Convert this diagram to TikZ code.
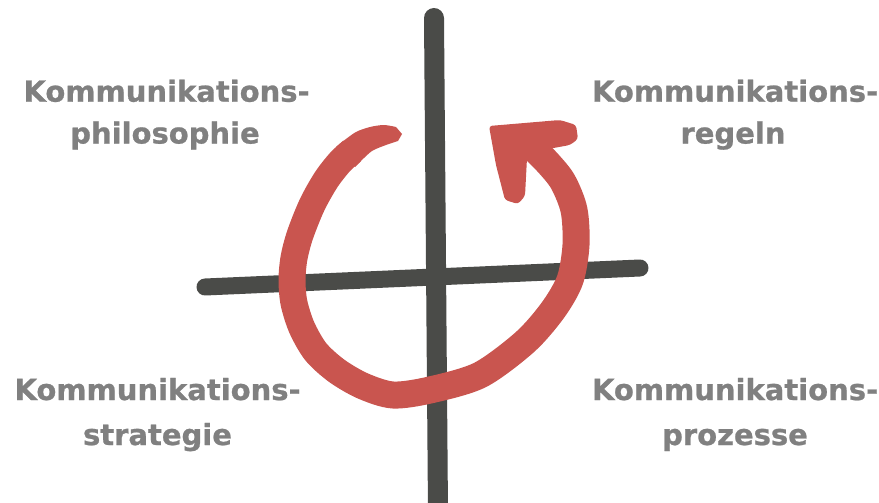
\documentclass[tikz,border=0pt]{standalone}
\usepackage{fontspec}
\setmainfont{DejaVu Sans}
\newfontfamily\lblfont{DejaVu Sans Bold}[FakeBold=0.8]
\definecolor{barcol}{HTML}{4A4B48}
\definecolor{arrowred}{HTML}{C9554F}
\definecolor{labelgray}{HTML}{808080}
\tikzset{
  bar/.style={draw=barcol, line width=#1, line cap=round},
  lbl/.style={text=labelgray, font=\lblfont\fontsize{29}{42}\selectfont, anchor=base, inner sep=0pt},
}
\begin{document}
\begin{tikzpicture}[x=1pt,y=-1pt]
\useasboundingbox (0,0) rectangle (879,503);
% axes
\coordinate (hl) at (205,287);
\coordinate (hr) at (640,268);
\coordinate (vt) at (434,18);
\coordinate (vb) at (438,512);
\draw[bar=17pt] (hl) -- (hr);
\draw[bar=20pt] (vt) -- (vb);
% body
\draw[arrowred, line width=27pt] plot[smooth] coordinates {(352,151) (340,162) (326,180) (312,205) (300,235) (294,258) (292,280) (294,303) (302,328) (316,352) (337,371) (363,386) (393,395) (430,390) (480,375) (525,342) (553,310) (570,280) (576,245) (574,210) (563,182) (548,163) (530,145)};
% red circular arrow: tapered tail tip (overlapping the body start)
\fill[arrowred] (336,147) -- plot[smooth] coordinates {(342,142) (356,132) (370,127) (384,125) (396,127)}
  -- (402,134) -- plot[smooth] coordinates {(398,141) (386,145) (372,151) (361,161)} -- (355,167) -- (346,157) -- cycle;
% head
\fill[arrowred, rounded corners=3pt] (489,126) -- (560,120) -- (576,125) -- (578,139) -- (570,145) -- (548,149) -- (535,153) -- (527,158) -- (525,196) -- (518,204) -- (505,200) -- (496,165) -- cycle;
% labels
\node[lbl] (tl1) at (166.5,101.7) {Kommunikations-};
\node[lbl] (tl2) at (165,143.5) {philosophie};
\node[lbl] (tr1) at (735,101.7) {Kommunikations-};
\node[lbl] (tr2) at (733,143.5) {regeln};
\node[lbl] (bl1) at (157.5,400) {Kommunikations-};
\node[lbl] (bl2) at (157.5,445) {strategie};
\node[lbl] (br1) at (735,400) {Kommunikations-};
\node[lbl] (br2) at (735,445) {prozesse};
\end{tikzpicture}
\end{document}
